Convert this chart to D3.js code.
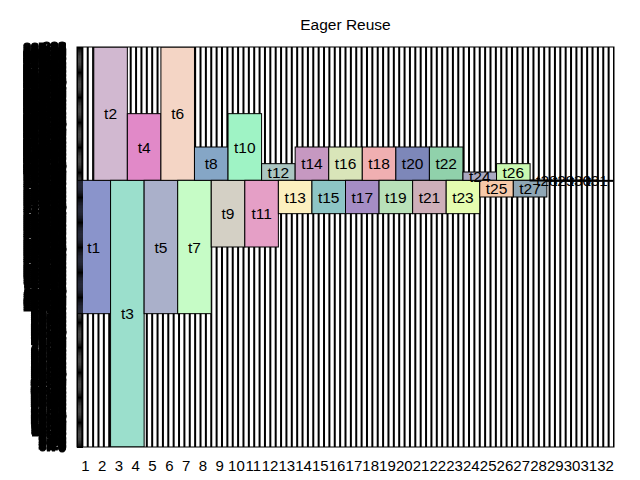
<!DOCTYPE html>
<html><head><meta charset="utf-8">
<script src="https://cdn.jsdelivr.net/npm/d3@7"></script>
<style>body{margin:0;background:#fff}svg{display:block}text{font-family:"Liberation Sans",Arial,Helvetica,sans-serif}</style>
</head><body><svg id="c" width="640" height="480"></svg>
<script>
const title = "Eager Reuse";
const tensors = ["t1","t2","t3","t4","t5","t6","t7","t8","t9","t10","t11","t12","t13","t14","t15","t16","t17","t18","t19","t20","t21","t22","t23","t24","t25","t26","t27","t28","t29","t30","t31"];
const startTimes = [0,1,2,3,4,5,6,7,8,9,10,11,12,13,14,15,16,17,18,19,20,21,22,23,24,25,26,27,28,29,30];
const endTimes   = [2,3,4,5,6,7,8,9,10,11,12,13,14,15,16,17,18,19,20,21,22,23,24,25,26,27,28,29,30,31,32];
const offsets = [98304,196608,0,196608,98304,196608,98304,196608,147456,196608,147456,196608,172032,196608,172032,196608,172032,196608,172032,196608,172032,196608,172032,196608,184320,196608,184320,196608,196352,196608,196352];
const sizes   = [98304,98304,196608,49152,98304,98304,98304,24576,49152,49152,49152,12288,24576,24576,24576,24576,24576,24576,24576,24576,24576,24576,24576,6144,12288,12288,12288,256,256,256,256];
const colors = ["#8a94cb","#d1b8d0","#9bdfcc","#e189c8","#aab0ca","#f4d5c5","#c6fcc6","#85a6c6","#d4d0c5","#9ff3c5","#e59fc6","#abc6c1","#fcf0bf","#c698c1","#8dc5c5","#d9e5b9","#a58dc5","#f0afb1","#b9e1b9","#7d87b9","#ceafb9","#90d1ab","#e5fcb0","#a9a9c1","#f6c9a9","#c9f8b1","#8fa6b5","#b0c4d8","#d8c0b0","#c0d8b0","#b8b0d8"];
const timeLabels = ["1","2","3","4","5","6","7","8","9","10","11","12","13","14","15","16","17","18","19","20","21","22","23","24","25","26","27","28","29","30","31","32"];
const totalMemory = 294912;
const yTickStep = 768;

const L=77,R=614,T=47,B=447;
const svg=d3.select("#c");
const defs=svg.append("defs");
defs.append("clipPath").attr("id","clip").append("rect").attr("x",L).attr("y",T).attr("width",R-L).attr("height",B-T);
const gf=defs.append("filter").attr("id","gray");
gf.append("feColorMatrix").attr("type","saturate").attr("values",0);

const x=d3.scaleLinear().domain([0,32]).range([L,R]);
const xb=d3.scaleBand().domain(timeLabels).range([L,R]).padding(0);
const y=d3.scaleLinear().domain([0,totalMemory]).range([B,T]);

const plot=svg.append("g").attr("clip-path","url(#clip)");

// dense vertical grid
plot.selectAll("line.g").data(d3.range(0,32.001,0.32)).join("line").attr("class","g")
  .attr("x1",d=>x(d)).attr("x2",d=>x(d)).attr("y1",T).attr("y2",B)
  .attr("stroke","#000").attr("stroke-width",2);

const data=tensors.map((n,i)=>({n,s:startTimes[i],e:endTimes[i],o:offsets[i],z:sizes[i],c:colors[i]}));
plot.selectAll("rect.t").data(data).join("rect").attr("class","t")
  .attr("x",d=>x(d.s)).attr("width",d=>x(d.e)-x(d.s))
  .attr("y",d=>y(d.o+d.z)).attr("height",d=>Math.max(1,y(d.o)-y(d.o+d.z)))
  .attr("fill",d=>d.c).attr("stroke","#000").attr("stroke-width",1);
svg.selectAll("text.t").data(data).join("text").attr("class","t")
  .attr("x",d=>(x(d.s)+x(d.e))/2).attr("y",d=>(y(d.o)+y(d.o+d.z))/2)
  .attr("text-anchor","middle").attr("dy","0.36em").attr("font-size",15.5).attr("fill","#000").text(d=>d.n);

// y axis with very dense ticks (inward), labels in KB
const yTicks=d3.range(0,totalMemory+1,yTickStep);
const kb=d3.format("~f");
const ya=svg.append("g").attr("transform",`translate(${L},0)`).attr("filter","url(#gray)")
  .call(d3.axisLeft(y).tickValues(yTicks).tickFormat(d=>kb(d/1024)).tickSize(-6).tickPadding(11));
ya.select(".domain").remove();
ya.selectAll("text").attr("font-size",14).attr("font-weight","bold").attr("fill","#000")
  .attr("stroke","#000").attr("stroke-width",1.2).attr("font-family",null);
ya.selectAll("line").attr("stroke","#000");

// x axis
const xa=svg.append("g").attr("transform",`translate(0,${B})`)
  .call(d3.axisBottom(xb).tickSize(0).tickPadding(13));
xa.select(".domain").remove();
xa.selectAll("text").attr("font-size",15).attr("fill","#000").attr("font-family",null);

svg.append("rect").attr("x",L).attr("y",T).attr("width",R-L).attr("height",B-T).attr("fill","none").attr("stroke","#000").attr("stroke-width",1);

svg.append("text").attr("x",(L+R)/2).attr("y",30).attr("text-anchor","middle").attr("font-size",15.5).attr("fill","#000").text(title);
</script></body></html>
